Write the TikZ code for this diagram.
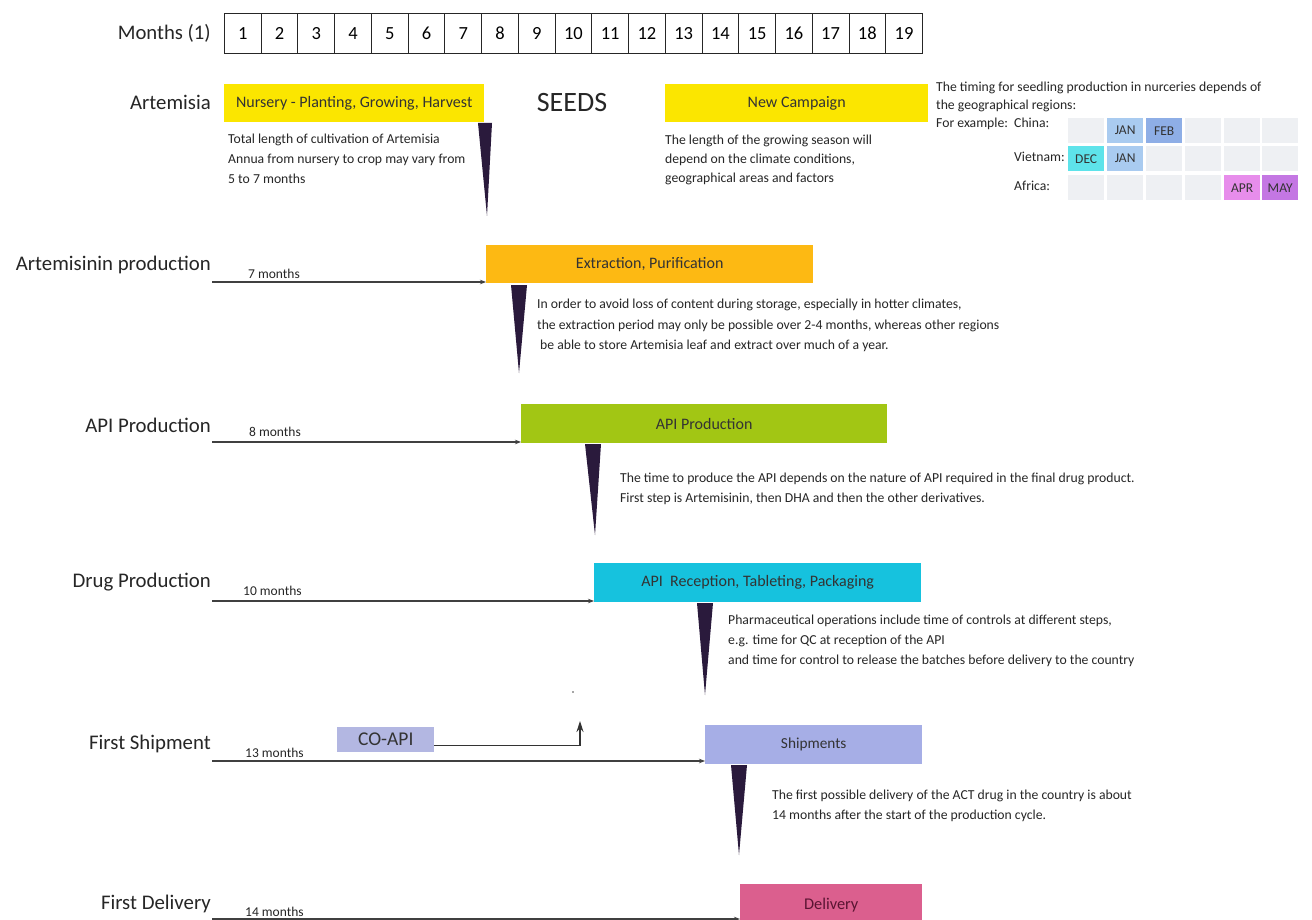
\documentclass[tikz,border=0pt]{standalone}
\usepackage{fontspec}
\setmainfont{Carlito}
\usetikzlibrary{arrows.meta}
\definecolor{yel}{HTML}{FBE600}
\definecolor{orng}{HTML}{FDB913}
\definecolor{grn}{HTML}{A2C614}
\definecolor{cyn}{HTML}{16C2DE}
\definecolor{shp}{HTML}{A6AEE6}
\definecolor{coapi}{HTML}{B3B7E2}
\definecolor{dlv}{HTML}{DB5F8E}
\definecolor{dlvtext}{HTML}{5A1432}
\definecolor{spikec}{HTML}{2A1A3C}
\definecolor{cellgray}{HTML}{EEF0F3}
\definecolor{jan}{HTML}{A9CBF0}
\definecolor{feb}{HTML}{8EAEE6}
\definecolor{dec}{HTML}{5EE3EA}
\definecolor{apr}{HTML}{E78DEB}
\definecolor{may}{HTML}{C477E3}
\begin{document}
\begin{tikzpicture}[x=1pt,y=-1pt,
  lab/.style={font=\fontsize{20.8}{24}\selectfont, anchor=east, inner sep=0, text=black!85},
  bar/.style={anchor=north west, inner sep=0, text=black!80, font=\fontsize{16}{18}\selectfont},
  note/.style={anchor=base west, inner sep=0, font=\fontsize{13.7}{16}\selectfont, text=black!85},
  mon/.style={anchor=base west, inner sep=0, font=\fontsize{13.5}{15}\selectfont, text=black!85},
  arr/.style={draw=black!75, line width=1.1pt, -{Stealth[length=6pt,width=4.5pt]}},
  spike/.style={fill=spikec, draw=none},
  cell/.style={fill=cellgray, minimum width=36pt, minimum height=25pt, anchor=north west, inner sep=0, font=\fontsize{13.5}{15}\selectfont, text=black!80},
  monthbox/.style={draw=black!85, line width=0.8pt, minimum width=36.74pt, minimum height=40pt, anchor=north west, inner sep=0, font=\fontsize{18.5}{20}\selectfont}
]
\clip (0,0) rectangle (1312,920);
\fill[white] (0,0) rectangle (1312,920);

% months header
\node[lab, font=\fontsize{20.7}{24}\selectfont] (mlab) at (211,33) {Months (1)};
\foreach \i in {1,...,19} {
  \node[monthbox] (m\i) at ({224+36.74*(\i-1)},13) {\i};
}

% Artemisia row
\node[lab] (l1) at (211,102) {Artemisia};
\node[bar, fill=yel, minimum width=260pt, minimum height=38pt] (nur) at (224,84) {Nursery - Planting, Growing, Harvest};
\node[inner sep=0, font=\fontsize{28}{30}\selectfont, text=black!85] (seeds) at (572,103) {SEEDS};
\node[bar, fill=yel, minimum width=263pt, minimum height=38pt] (camp) at (665,84) {New Campaign};
\fill[spike] (478,123) -- (492,123) -- (487,216) -- cycle;
\node[note] (n1a) at (228,144) {Total length of cultivation of Artemisia};
\node[note] (n1b) at (228,164) {Annua from nursery to crop may vary from};
\node[note] (n1c) at (228,184) {5 to 7 months};
\node[note] (n2a) at (665,145) {The length of the growing season will};
\node[note] (n2b) at (665,164) {depend on the climate conditions,};
\node[note] (n2c) at (665,183) {geographical areas and factors};

% seedling table
\node[note] (t1) at (936,92) {The timing for seedling production in nurceries depends of};
\node[note] (t2) at (936,110) {the geographical regions:};
\node[note] (t3) at (936,128) {For example:};
\node[note] (tchina) at (1014,128) {China:};
\node[note, anchor=base east] (tviet) at (1065,162) {Vietnam:};
\node[note] (tafr) at (1014,191) {Africa:};
\foreach \c [count=\k from 0] in {1068,1107,1146,1185,1224,1262} {
  \node[cell] (ca\k) at (\c,118) {};
  \node[cell] (cb\k) at (\c,146) {};
  \node[cell] (cc\k) at (\c,175) {};
}
\node[cell, fill=jan] (cjan1) at (1107,118) {JAN};
\node[cell, fill=feb] (cfeb) at (1146,118) {FEB};
\node[cell, fill=dec] (cdec) at (1068,146) {DEC};
\node[cell, fill=jan] (cjan2) at (1107,146) {JAN};
\node[cell, fill=apr] (capr) at (1224,175) {APR};
\node[cell, fill=may] (cmay) at (1262,175) {MAY};

% Artemisinin production
\node[lab] (l2) at (211,265) {Artemisinin production};
\node[bar, fill=orng, minimum width=327pt, minimum height=38pt] (ext) at (486,245) {Extraction, Purification};
\coordinate (s2) at (212,282);
\draw[arr] (s2) -- (s2 -| ext.west);
\node[mon] (d2) at (248,278) {7 months};
\fill[spike] (511,285) -- (527,285) -- (519,373) -- cycle;
\node[note] (n3a) at (537,308) {In order to avoid loss of content during storage, especially in hotter climates,};
\node[note] (n3b) at (537,329) {the extraction period may only be possible over 2-4 months, whereas other regions};
\node[note] (n3c) at (540,349) {be able to store Artemisia leaf and extract over much of a year.};

% API production
\node[lab] (l3) at (211,425) {API Production};
\node[bar, fill=grn, minimum width=366pt, minimum height=39pt] (api) at (521,404) {API Production};
\coordinate (s3) at (212,442);
\draw[arr] (s3) -- (s3 -| api.west);
\node[mon] (d3) at (249,436) {8 months};
\fill[spike] (585,444) -- (601,444) -- (595,535) -- cycle;
\node[note] (n4a) at (620,482) {The time to produce the API depends on the nature of API required in the final drug product.};
\node[note] (n4b) at (620,502) {First step is Artemisinin, then DHA and then the other derivatives.};

% Drug production
\node[lab] (l4) at (211,582) {Drug Production};
\node[bar, fill=cyn, minimum width=327pt, minimum height=39pt] (drug) at (594,563) {API\ \ Reception, Tableting, Packaging};
\coordinate (s4) at (212,601);
\draw[arr] (s4) -- (s4 -| drug.west);
\node[mon] (d4) at (243,595) {10 months};
\fill[spike] (697,603) -- (713,603) -- (705,695) -- cycle;
\node[note] (n5a) at (728,624) {Pharmaceutical operations include time of controls at different steps,};
\node[note] (n5b) at (728,644) {e.g. time for QC at reception of the API};
\node[note] (n5c) at (728,664) {and time for control to release the batches before delivery to the country};
\fill[black!70] (573,692) circle (0.9);

% First shipment
\node[lab] (l5) at (211,744) {First Shipment};
\node[bar, fill=coapi, minimum width=97pt, minimum height=25pt, font=\fontsize{19.5}{21}\selectfont] (co) at (337,727) {CO-API};
\coordinate (cotip) at (580,721);
\draw[draw=black!80, line width=1.1pt, -{Stealth[length=11pt,width=7pt]}] ([yshift=-6pt]co.east) -| (cotip);
\node[bar, fill=shp, minimum width=217pt, minimum height=39pt, font=\fontsize{15.3}{17}\selectfont] (ship) at (705,725) {\raisebox{3pt}{Shipments}};
\coordinate (s5) at (212,761);
\draw[arr] (s5) -- (s5 -| ship.west);
\node[mon] (d5) at (245,757) {13 months};
\fill[spike] (731,765) -- (747,765) -- (739,855) -- cycle;
\node[note] (n6a) at (772,799) {The first possible delivery of the ACT drug in the country is about};
\node[note] (n6b) at (772,819) {14 months after the start of the production cycle.};

% First delivery
\node[lab] (l6) at (211,904) {First Delivery};
\node[bar, fill=dlv, minimum width=182pt, minimum height=42pt, text=dlvtext, font=\fontsize{16.4}{18}\selectfont] (del) at (740,884) {\raisebox{-1pt}{Delivery}};
\coordinate (s6) at (212,919);
\draw[arr] (s6) -- (s6 -| del.west);
\node[mon] (d6) at (245,916) {14 months};
\end{tikzpicture}
\end{document}
